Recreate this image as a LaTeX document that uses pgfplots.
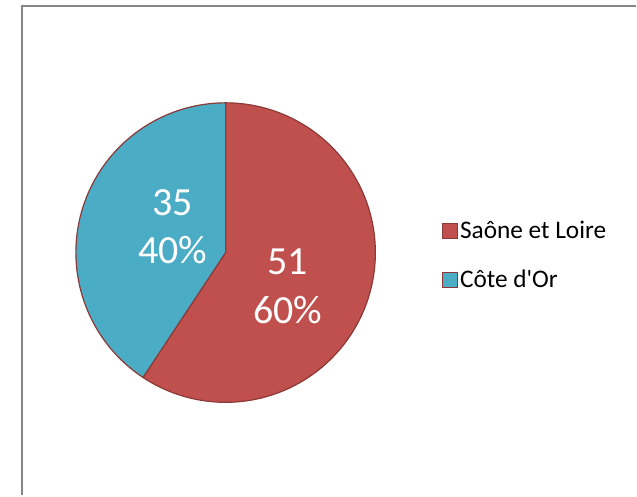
\documentclass[border=0pt]{standalone}
\usepackage{pgfplots}
\pgfplotsset{compat=1.18}
\usepackage{fontspec}
\setmainfont{Carlito}

\definecolor{sred}{HTML}{C0504D}
\definecolor{sblue}{HTML}{4BACC6}
\definecolor{sedge}{HTML}{8C3A38}
\definecolor{frame}{HTML}{868686}

% slice values
\def\va{51}
\def\vb{35}

\begin{document}
\begin{tikzpicture}
\begin{axis}[
  scale only axis, width=477.75pt, height=372pt,
  xmin=0, xmax=637, ymin=0, ymax=496,
  hide axis, clip=false,
  legend style={at={(axis cs:442,276.5)}, anchor=north west, draw=none, fill=none,
    font=\fontsize{19}{22}\selectfont, row sep=19pt, inner sep=0pt,
    nodes={inner sep=1.5pt},
    /tikz/every even column/.append style={column sep=5.5pt}},
  legend cell align=left,
  legend image code/.code={\draw[#1, draw=sedge, line width=0.8pt] (0pt,-5.8pt) rectangle (11.6pt,5.8pt);},
]
\path (axis cs:0,0) rectangle (axis cs:637,496);
\draw[frame, line width=1.6pt] (axis cs:22,0) -- (axis cs:22,490) -- (axis cs:637,490);

\addplot[fill=sred, draw=sedge, line width=0.9pt, domain={90-360*\va/(\va+\vb)}:90, samples=120]
  ({226+150*cos(x)},{243+150*sin(x)}) -- (axis cs:226,243) -- cycle;
\addlegendentry{Saône et Loire}
\addplot[fill=sblue, draw=sedge, line width=0.9pt, domain={90-360*\va/(\va+\vb)-360*\vb/(\va+\vb)}:{90-360*\va/(\va+\vb)}, samples=100]
  ({226+150*cos(x)},{243+150*sin(x)}) -- (axis cs:226,243) -- cycle;
\addlegendentry{Côte d\textquotesingle Or}

\node[white, align=center, font=\fontsize{30}{36.5}\selectfont] at (axis cs:288,209) {51\\60\%};
\node[white, align=center, font=\fontsize{30}{36.5}\selectfont] at (axis cs:173,269) {35\\40\%};
\end{axis}
\end{tikzpicture}
\end{document}
